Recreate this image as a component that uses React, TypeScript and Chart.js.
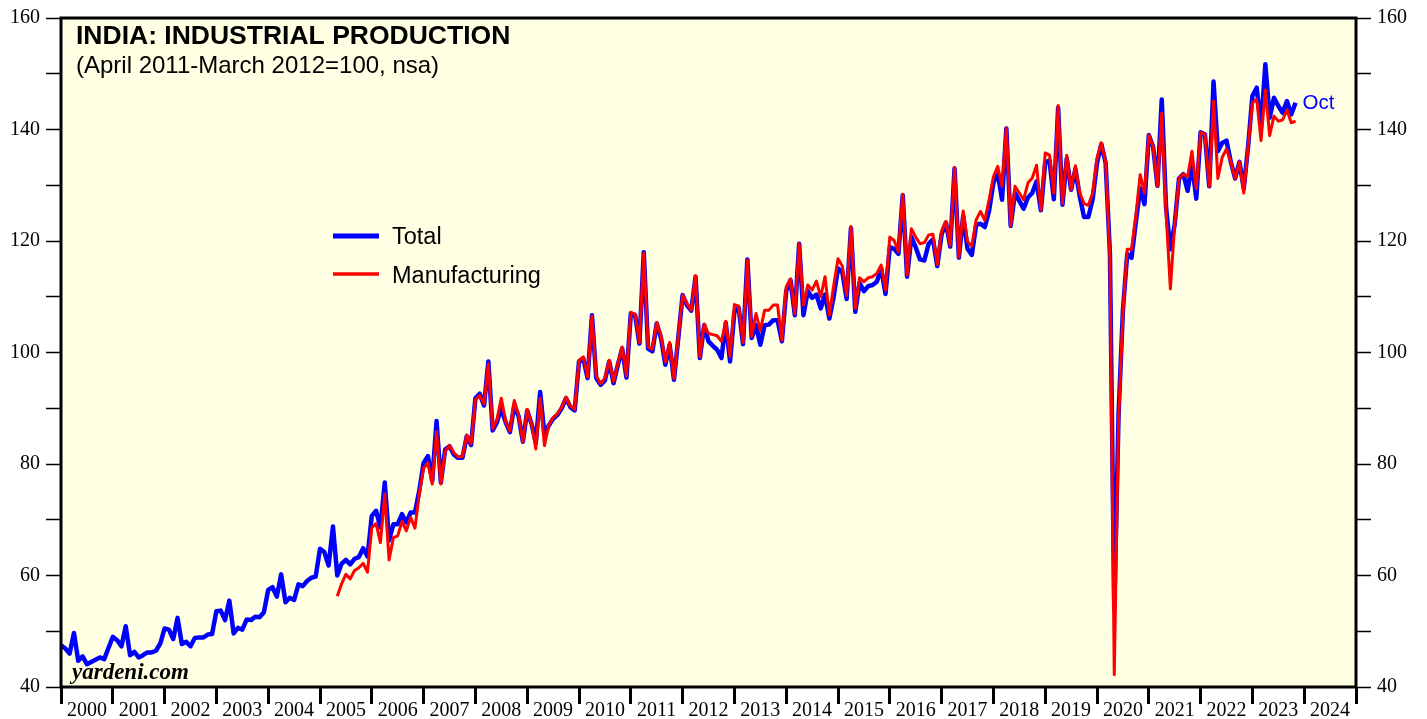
import React, { useEffect, useRef } from 'react';
import { Chart, registerables } from 'chart.js';

Chart.register(...registerables);

const W = 1427;
const H = 719;

// Year axis: label each year in the middle of its span
const firstYear = 2000;
const lastYear = 2025;

const yTicksMin = 40;
const yTicksMax = 160;

// Total index, monthly from Dec 1999 to Oct 2023
const totalStart = { year: 1999, month: 12 };
const totalIndex = [
  47.5,
  46.9, 46.0, 49.7, 44.7, 45.5, 44.1, 44.5, 44.9, 45.3, 45.0, 47.0, 49.0,
  48.4, 47.3, 50.9, 45.7, 46.3, 45.3, 45.7, 46.2, 46.2, 46.5, 47.8, 50.5,
  50.3, 48.6, 52.4, 47.7, 48.1, 47.3, 48.8, 48.9, 48.9, 49.4, 49.5, 53.6,
  53.7, 52.0, 55.5, 49.6, 50.6, 50.3, 52.1, 52.0, 52.6, 52.5, 53.4, 57.4,
  57.9, 56.2, 60.2, 55.2, 56.0, 55.6, 58.4, 58.1, 59.0, 59.6, 59.8, 64.8,
  64.2, 61.8, 68.8, 60.0, 62.1, 62.8, 62.0, 63.0, 63.3, 64.9, 63.4, 70.7,
  71.6, 68.6, 76.7, 66.3, 69.2, 69.2, 71.0, 69.5, 71.3, 71.3, 75.2, 80.2,
  81.4, 77.0, 87.7, 76.7, 82.6, 83.2, 81.7, 81.1, 81.1, 85.0, 83.4, 91.8,
  92.6, 90.5, 98.4, 86.0, 87.5, 90.0, 87.5, 85.7, 90.5, 88.6, 84.0, 89.6,
  87.2, 83.8, 92.9, 85.2, 86.9, 88.1, 88.8, 90.0, 91.8, 90.2, 89.6, 98.4,
  98.9, 95.4, 106.7, 95.4, 94.2, 95.0, 98.4, 94.5, 97.8, 100.7, 95.5, 107.0,
  106.7, 101.6, 118.0, 100.7, 100.2, 105.2, 102.6, 97.8, 101.4, 95.1, 102.6, 110.3,
  108.5, 107.5, 113.6, 99.0, 104.9, 102.0, 101.2, 100.5, 99.0, 105.3, 98.4, 107.3,
  108.0, 101.5, 116.7, 102.6, 104.9, 101.4, 104.9, 105.0, 105.8, 105.8, 102.0, 111.0,
  113.0, 106.7, 119.5, 106.7, 111.0, 109.8, 110.4, 107.9, 110.4, 106.1, 110.0, 115.1,
  114.4, 109.6, 122.3, 107.3, 112.5, 111.0, 111.9, 112.1, 112.7, 115.1, 110.5, 118.9,
  118.6, 117.7, 128.2, 113.6, 120.7, 118.9, 116.7, 116.5, 119.5, 120.3, 115.5, 121.2,
  123.3, 119.0, 133.0, 117.0, 124.5, 118.6, 117.5, 122.9, 123.1, 122.5, 125.4, 130.4,
  132.2, 127.4, 140.2, 122.7, 128.6, 127.2, 125.8, 127.8, 128.6, 130.7, 125.5, 134.1,
  134.4, 127.5, 143.9, 126.5, 134.8, 129.2, 132.9, 128.0, 124.3, 124.3, 127.5, 134.0,
  137.4, 134.0, 117.7, 54.0, 89.0, 107.5, 117.7, 117.0, 123.4, 129.4, 126.6, 139.0,
  136.9, 129.9, 145.4, 126.0, 118.5, 123.0, 131.2, 132.0, 129.0, 133.9, 127.6, 139.5,
  139.1, 129.8, 148.6, 136.1, 137.6, 138.0, 134.2, 131.2, 134.2, 129.4, 136.9, 146.0,
  147.5, 140.4, 151.7, 142.1, 145.7, 144.2, 143.0, 145.1, 142.7, 144.8,
];

// Manufacturing index, monthly from Apr 2005 to Oct 2023
const manufacturingStart = { year: 2005, month: 4 };
const manufacturingIndex = [
  56.3, 58.5, 60.2, 59.4, 60.9, 61.4, 62.2, 60.6, 68.6,
  69.3, 65.9, 74.6, 62.8, 66.8, 67.1, 69.7, 68.0, 70.4, 68.5, 74.6, 79.3,
  80.2, 76.4, 85.8, 76.4, 82.3, 83.3, 82.0, 81.3, 81.3, 85.2, 83.6, 91.5,
  92.3, 90.8, 98.0, 86.3, 88.0, 91.8, 87.7, 85.9, 91.4, 88.8, 84.0, 89.8,
  87.2, 82.7, 91.8, 83.3, 86.9, 88.3, 89.0, 90.2, 92.0, 90.4, 89.8, 98.6,
  99.2, 95.6, 106.5, 95.8, 94.4, 95.4, 98.6, 94.8, 98.0, 101.0, 95.8, 107.2,
  106.9, 101.8, 117.8, 101.0, 100.6, 105.4, 103.0, 98.3, 101.8, 95.3, 102.9, 110.3,
  108.8, 107.6, 113.8, 99.2, 105.1, 103.4, 103.2, 103.0, 102.0, 105.6, 99.3, 108.6,
  108.3, 101.8, 116.6, 102.9, 107.0, 103.9, 107.6, 107.6, 108.5, 108.5, 102.2, 111.8,
  113.2, 106.9, 119.5, 108.5, 112.1, 111.2, 112.8, 110.0, 113.6, 106.7, 112.0, 116.8,
  115.5, 110.2, 122.6, 107.9, 113.4, 112.7, 113.4, 113.6, 114.2, 115.7, 111.2, 120.7,
  120.1, 118.1, 128.4, 113.9, 122.2, 120.7, 119.5, 119.7, 121.1, 121.2, 115.8, 121.8,
  123.5, 119.2, 133.2, 117.1, 125.4, 119.9, 119.1, 123.8, 125.3, 123.7, 127.4, 131.5,
  133.4, 129.8, 140.2, 122.7, 129.8, 128.6, 127.4, 130.4, 131.3, 133.6, 125.5, 135.8,
  135.4, 128.6, 144.3, 126.7, 135.4, 129.2, 133.5, 128.6, 126.7, 126.4, 128.6, 134.9,
  137.6, 134.2, 117.0, 42.2, 88.0, 107.2, 118.5, 118.5, 124.5, 131.9, 128.6, 139.0,
  136.9, 129.9, 142.9, 125.0, 111.4, 123.0, 131.2, 132.0, 131.6, 136.1, 129.4, 139.5,
  139.1, 129.8, 145.1, 131.2, 135.0, 136.5, 134.2, 131.2, 134.2, 128.6, 136.9, 144.8,
  145.4, 138.0, 147.1, 138.9, 142.4, 141.5, 141.7, 143.5, 141.2, 141.5,
];

const titleText = 'INDIA: INDUSTRIAL PRODUCTION';
const subtitleText = '(April 2011-March 2012=100, nsa)';
const legendLabels = ['Total', 'Manufacturing'];
const lastMonthLabel = 'Oct';
const sourceText = 'yardeni.com';

const BLUE = '#0000FF';
const RED = '#FF0000';
const PLOT_BG = '#FFFFE3';
const SANS = '"Liberation Sans", Arial, Helvetica, sans-serif';
const SERIF = '"Liberation Serif", "Times New Roman", Times, serif';

function toPoints(start: { year: number; month: number }, values: number[]) {
  // each monthly value is plotted at the end of its month
  return values.map((v, k) => ({ x: start.year + (start.month + k) / 12, y: v }));
}

const decorPlugin = {
  id: 'decor',
  beforeDraw(chart: any) {
    const { ctx } = chart;
    ctx.save();
    ctx.fillStyle = '#FFFFFF';
    ctx.fillRect(0, 0, chart.width, chart.height);
    ctx.restore();
  },
  beforeDatasetsDraw(chart: any) {
    const { ctx, chartArea: a } = chart;
    ctx.save();
    ctx.fillStyle = PLOT_BG;
    ctx.fillRect(a.left, a.top, a.right - a.left, a.bottom - a.top);
    ctx.restore();
  },
  afterDraw(chart: any) {
    const { ctx, chartArea: a } = chart;
    ctx.save();
    // frame
    ctx.strokeStyle = '#000';
    ctx.lineWidth = 3;
    ctx.strokeRect(a.left, a.top, a.right - a.left, a.bottom - a.top);

    // title
    ctx.fillStyle = '#000';
    ctx.textBaseline = 'alphabetic';
    ctx.textAlign = 'left';
    ctx.font = `bold 26.5px ${SANS}`;
    ctx.fillText(titleText, a.left + 15, 44);
    ctx.font = `24px ${SANS}`;
    ctx.fillText(subtitleText, a.left + 15, 73);

    // legend
    const lx0 = 333;
    const lx1 = 379;
    ctx.lineCap = 'butt';
    ctx.strokeStyle = BLUE;
    ctx.lineWidth = 5;
    ctx.beginPath();
    ctx.moveTo(lx0, 236);
    ctx.lineTo(lx1, 236);
    ctx.stroke();
    ctx.strokeStyle = RED;
    ctx.lineWidth = 3.5;
    ctx.beginPath();
    ctx.moveTo(lx0, 274);
    ctx.lineTo(lx1, 274);
    ctx.stroke();
    ctx.fillStyle = '#000';
    ctx.font = `23.5px ${SANS}`;
    ctx.fillText(legendLabels[0], 392, 244);
    ctx.fillText(legendLabels[1], 392, 283);

    // source
    ctx.font = `italic bold 23px ${SERIF}`;
    ctx.fillText(sourceText, 72, 679);

    // last-month label next to the final Total point
    const meta = chart.getDatasetMeta(1);
    const last = meta.data[meta.data.length - 1];
    if (last) {
      ctx.fillStyle = BLUE;
      ctx.font = `20.5px ${SANS}`;
      ctx.textBaseline = 'middle';
      ctx.fillText(lastMonthLabel, last.x + 7, last.y + 1);
    }
    ctx.restore();
  },
};

export default function App() {
  const ref = useRef<HTMLCanvasElement>(null);

  useEffect(() => {
    const canvas = ref.current;
    if (!canvas) return;

    const yAxis = (position: 'left' | 'right', width: number) => ({
      type: 'linear' as const,
      position,
      min: yTicksMin,
      max: yTicksMax,
      afterFit: (s: any) => {
        s.width = width;
      },
      ticks: {
        stepSize: 10,
        autoSkip: false,
        padding: 6,
        color: '#000',
        font: { family: SERIF, size: 20 },
        callback: (v: any) => (Number(v) % 20 === 0 ? String(v) : ''),
      },
      grid: {
        drawOnChartArea: false,
        drawTicks: true,
        tickLength: 15,
        tickWidth: 1.5,
        tickColor: '#000',
      },
      border: { display: false },
    });

    const chart = new Chart(canvas, {
      type: 'line',
      data: {
        datasets: [
          {
            label: legendLabels[1],
            data: toPoints(manufacturingStart, manufacturingIndex),
            borderColor: RED,
            backgroundColor: RED,
            borderWidth: 3,
            pointRadius: 0,
            borderJoinStyle: 'round',
            tension: 0,
            order: 0,
            yAxisID: 'y',
          },
          {
            label: legendLabels[0],
            data: toPoints(totalStart, totalIndex),
            borderColor: BLUE,
            backgroundColor: BLUE,
            borderWidth: 4.5,
            pointRadius: 0,
            borderJoinStyle: 'round',
            tension: 0,
            order: 1,
            yAxisID: 'y',
          },
        ],
      },
      options: {
        responsive: false,
        animation: false,
        devicePixelRatio: 1,
        layout: { padding: { top: 15, left: 0, right: 0, bottom: 0 } },
        plugins: {
          legend: { display: false },
          tooltip: { enabled: false },
          title: { display: false },
        },
        scales: {
          x: {
            type: 'linear',
            position: 'bottom',
            min: firstYear,
            max: lastYear,
            afterBuildTicks: (s: any) => {
              const t: { value: number }[] = [];
              for (let y = firstYear; y <= lastYear; y++) {
                t.push({ value: y });
                if (y < lastYear) t.push({ value: y + 0.5 });
              }
              s.ticks = t;
            },
            afterFit: (s: any) => {
              s.height = 32;
            },
            ticks: {
              autoSkip: false,
              maxRotation: 0,
              minRotation: 0,
              padding: -5,
              color: '#000',
              font: { family: SERIF, size: 20 },
              callback: (v: any) => (Number(v) % 1 === 0.5 ? String(Math.floor(Number(v))) : ''),
            },
            grid: {
              drawOnChartArea: false,
              drawTicks: true,
              tickLength: 17,
              tickWidth: 3,
              tickColor: (ctx: any) =>
                ctx.tick && Number(ctx.tick.value) % 1 === 0 ? '#000' : 'rgba(0,0,0,0)',
            },
            border: { display: false },
          },
          y: yAxis('left', 61),
          y2: yAxis('right', W - 1356),
        },
      },
      plugins: [decorPlugin],
    });

    return () => chart.destroy();
  }, []);

  return (
    <div style={{ position: 'fixed', left: 0, top: 0, width: W, height: H, background: '#fff' }}>
      <canvas ref={ref} width={W} height={H} style={{ display: 'block', width: W, height: H }} />
    </div>
  );
}
